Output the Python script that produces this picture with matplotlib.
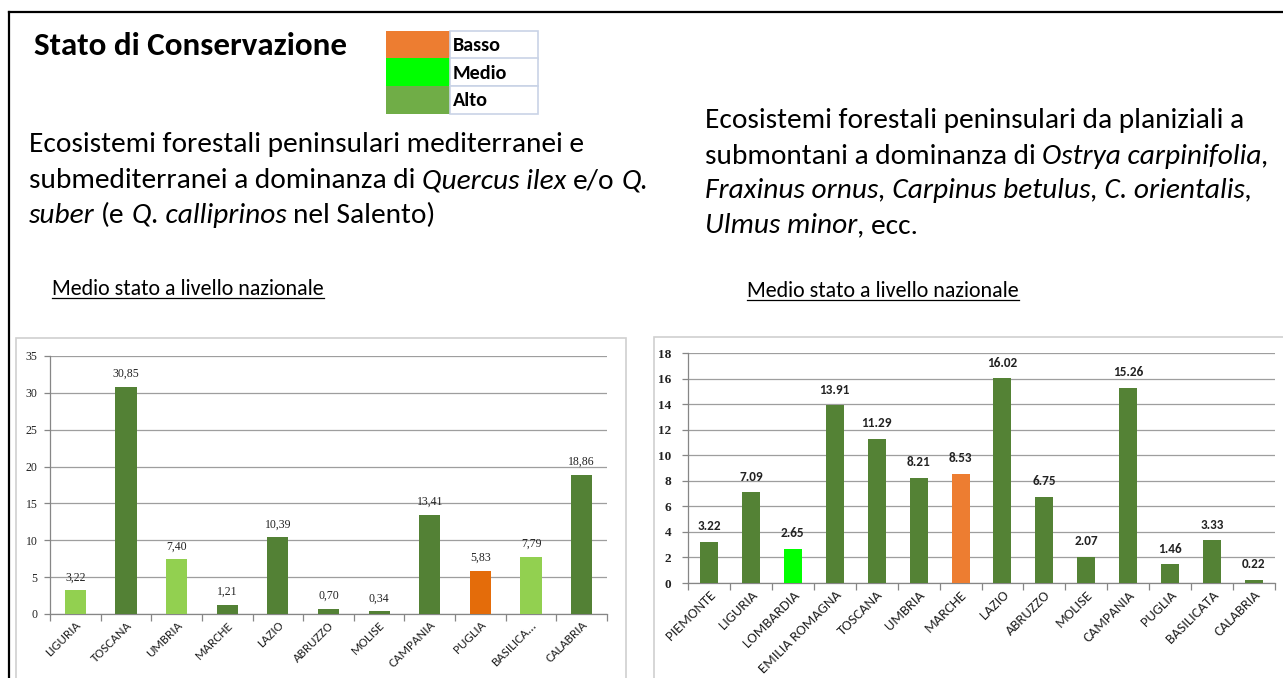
import matplotlib
matplotlib.use("Agg")
import matplotlib.pyplot as plt
import numpy as np
from matplotlib.patches import Rectangle
from matplotlib.lines import Line2D

# ---------------- data ----------------
left_regions = ["LIGURIA", "TOSCANA", "UMBRIA", "MARCHE", "LAZIO", "ABRUZZO",
                "MOLISE", "CAMPANIA", "PUGLIA", "BASILICA...", "CALABRIA"]
left_values = [3.22, 30.85, 7.40, 1.21, 10.39, 0.70, 0.34, 13.41, 5.83, 7.79, 18.86]
left_status = ["light", "dark", "light", "dark", "dark", "dark", "dark", "dark",
               "low", "light", "dark"]
left_yticks = [0, 5, 10, 15, 20, 25, 30, 35]

right_regions = ["PIEMONTE", "LIGURIA", "LOMBARDIA", "EMILIA ROMAGNA", "TOSCANA",
                 "UMBRIA", "MARCHE", "LAZIO", "ABRUZZO", "MOLISE", "CAMPANIA",
                 "PUGLIA", "BASILICATA", "CALABRIA"]
right_values = [3.22, 7.09, 2.65, 13.91, 11.29, 8.21, 8.53, 16.02, 6.75, 2.07,
                15.26, 1.46, 3.33, 0.22]
right_status = ["dark", "dark", "mid", "dark", "dark", "dark", "low", "dark",
                "dark", "dark", "dark", "dark", "dark", "dark"]
right_yticks = [0, 2, 4, 6, 8, 10, 12, 14, 16, 18]

legend_labels = ["Basso", "Medio", "Alto"]
legend_colors = ["#ED7D31", "#00FF00", "#70AD47"]

left_colors = {"light": "#92D050", "dark": "#538135", "low": "#E46C0A"}
right_colors = {"dark": "#548235", "mid": "#00FF00", "low": "#ED7D31"}

title_text = "Stato di Conservazione"
subtitle_text = "Medio stato a livello nazionale"
left_desc = [
    [("Ecosistemi forestali peninsulari mediterranei e", False, False)],
    [("submediterranei a dominanza di", False, False), ("Quercus ilex", True, True),
     ("e/o", False, True), ("Q.", True, True)],
    [("suber", True, False), ("(e", False, True), ("Q. calliprinos", True, True),
     ("nel Salento)", False, True)],
]
right_desc = [
    [("Ecosistemi forestali peninsulari da planiziali a", False, False)],
    [("submontani a dominanza di", False, False), ("Ostrya carpinifolia,", True, True)],
    [("Fraxinus ornus, Carpinus betulus, C. orientalis,", True, False)],
    [("Ulmus minor", True, False), (", ecc.", False, False)],
]

# ---------------- figure ----------------
W, H = 1283, 678
FONT = ["Carlito", "Lato", "DejaVu Sans"]
plt.rcParams["font.family"] = FONT
fig = plt.figure(figsize=(W / 100, H / 100), dpi=100)
fig.patch.set_facecolor("white")
R = fig.canvas.get_renderer()


def fx(x):
    return x / W


def fy(y):
    return 1 - y / H


def measure(txt, size, style="normal", weight="normal"):
    t = fig.text(0, 0, txt, fontsize=size, style=style, weight=weight)
    w = t.get_window_extent(renderer=R).width
    t.remove()
    return w


def fit_size(txt, target, style="normal", weight="normal", base=20.0):
    return base * target / measure(txt, base, style, weight)


def rich_line(x, y, segs, size):
    cur = x
    for txt, ital, sp in segs:
        st = "italic" if ital else "normal"
        if sp:
            cur += measure("a a", size, st) - measure("aa", size, st)
        t = fig.text(fx(cur), fy(y), txt, fontsize=size, style=st,
                     va="baseline", ha="left", color="black")
        cur += t.get_window_extent(renderer=R).width


# outer frame
fig.add_artist(Line2D([fx(9), fx(9)], [fy(12), fy(H + 5)], color="black", lw=1.6,
                      transform=fig.transFigure))
fig.add_artist(Line2D([fx(9), fx(W + 5)], [fy(12), fy(12)], color="black", lw=1.6,
                      transform=fig.transFigure))

# title
ts = fit_size(title_text, 313, weight="bold")
fig.text(fx(34), fy(55), title_text, fontsize=ts, weight="bold", va="baseline", ha="left")

# legend table
lx0, lx1, lx2 = 386, 450, 538
ly = [31, 58.5, 86, 114]
for i, (lab, col) in enumerate(zip(legend_labels, legend_colors)):
    y0, y1 = ly[i], ly[i + 1]
    fig.add_artist(Rectangle((fx(lx0), fy(y1)), fx(lx1) - fx(lx0), fy(y0) - fy(y1),
                             facecolor=col, edgecolor="none", transform=fig.transFigure))
    fig.add_artist(Rectangle((fx(lx1), fy(y1)), fx(lx2) - fx(lx1), fy(y0) - fy(y1),
                             facecolor="white", edgecolor="#C9D3E6", lw=1.2,
                             transform=fig.transFigure))
    fig.text(fx(453), fy((y0 + y1) / 2 + 1), lab, fontsize=14.5, weight="bold",
             va="center", ha="left")

# description text
ds = (fit_size(left_desc[0][0][0], 557) + fit_size(right_desc[0][0][0], 538)) / 2
for segs, yb in zip(left_desc, [152, 188, 223]):
    rich_line(29, yb, segs, ds)
for segs, yb in zip(right_desc, [128, 164, 198, 233]):
    rich_line(705, yb, segs, ds)

# subtitles (underlined)
ss = fit_size(subtitle_text, 273)
for x0, yb in [(52, 295), (747, 297)]:
    t = fig.text(fx(x0), fy(yb), subtitle_text, fontsize=ss, va="baseline", ha="left")
    bb = t.get_window_extent(renderer=R)
    fig.add_artist(Line2D([fx(bb.x0), fx(bb.x1)], [fy(yb + 3), fy(yb + 3)],
                          color="black", lw=0.9, transform=fig.transFigure))

# chart boxes
fig.add_artist(Rectangle((fx(16), fy(H + 10)), fx(626) - fx(16), fy(338) - fy(H + 10),
                         facecolor="white", edgecolor="#D0D0D0", lw=1.2,
                         transform=fig.transFigure, zorder=0))
fig.add_artist(Rectangle((fx(654), fy(H + 10)), fx(W + 20) - fx(654), fy(337) - fy(H + 10),
                         facecolor="white", edgecolor="#D0D0D0", lw=1.2,
                         transform=fig.transFigure, zorder=0))


def style_axes(ax, n, yt, labels, lsize):
    ax.set_facecolor("none")
    ax.set_xlim(-0.5, n - 0.5)
    ax.set_ylim(yt[0], yt[-1])
    ax.set_yticks(yt)
    ax.yaxis.grid(True, color="#9E9E9E", lw=0.9)
    ax.set_axisbelow(True)
    for s in ["top", "right"]:
        ax.spines[s].set_visible(False)
    for s in ["left", "bottom"]:
        ax.spines[s].set_color("#868686")
        ax.spines[s].set_linewidth(0.9)
    ax.set_xticks(np.arange(n))
    ax.set_xticklabels(labels)
    ax.set_xticks(np.arange(n + 1) - 0.5, minor=True)
    ax.tick_params(axis="x", which="major", length=0, pad=4, labelrotation=45,
                   labelsize=lsize, labelcolor="#222222")
    ax.tick_params(axis="x", which="minor", length=5, color="#868686", width=0.9)
    ax.tick_params(axis="y", length=4, color="#868686", width=0.9)
    for lab in ax.get_xticklabels():
        lab.set_rotation(45)
        lab.set_ha("right")
        lab.set_rotation_mode("anchor")


# left chart
axL = fig.add_axes([fx(50), fy(614), fx(607) - fx(50), fy(356) - fy(614)])
n = len(left_regions)
axL.bar(np.arange(n), left_values, width=0.42,
        color=[left_colors[s] for s in left_status], zorder=3)
style_axes(axL, n, left_yticks, left_regions, 9.5)
axL.set_yticklabels([str(v) for v in left_yticks], family=["Liberation Serif"],
                    fontsize=8.5, color="#222222")
axL.tick_params(axis="y", pad=5)
for i, v in enumerate(left_values):
    axL.annotate(f"{v:.2f}".replace(".", ","), (i, v), xytext=(0, 5),
                 textcoords="offset points", ha="center", va="bottom",
                 family=["Liberation Serif"], fontsize=8.5, color="#222222")

# right chart
axR = fig.add_axes([fx(688), fy(583), fx(1275) - fx(688), fy(353) - fy(583)])
n = len(right_regions)
axR.bar(np.arange(n), right_values, width=0.43,
        color=[right_colors[s] for s in right_status], zorder=3)
style_axes(axR, n, right_yticks, right_regions, 10.5)
axR.set_yticklabels([str(v) for v in right_yticks], family=["Liberation Serif"],
                    fontsize=9.5, weight="bold", color="#222222")
axR.tick_params(axis="y", pad=8)
for i, v in enumerate(right_values):
    axR.annotate(f"{v:.2f}", (i, v), xytext=(0, 7), textcoords="offset points",
                 ha="center", va="bottom", fontsize=9.5, weight="bold", color="#222222")

fig.savefig("out.png", dpi=100, facecolor="white")
